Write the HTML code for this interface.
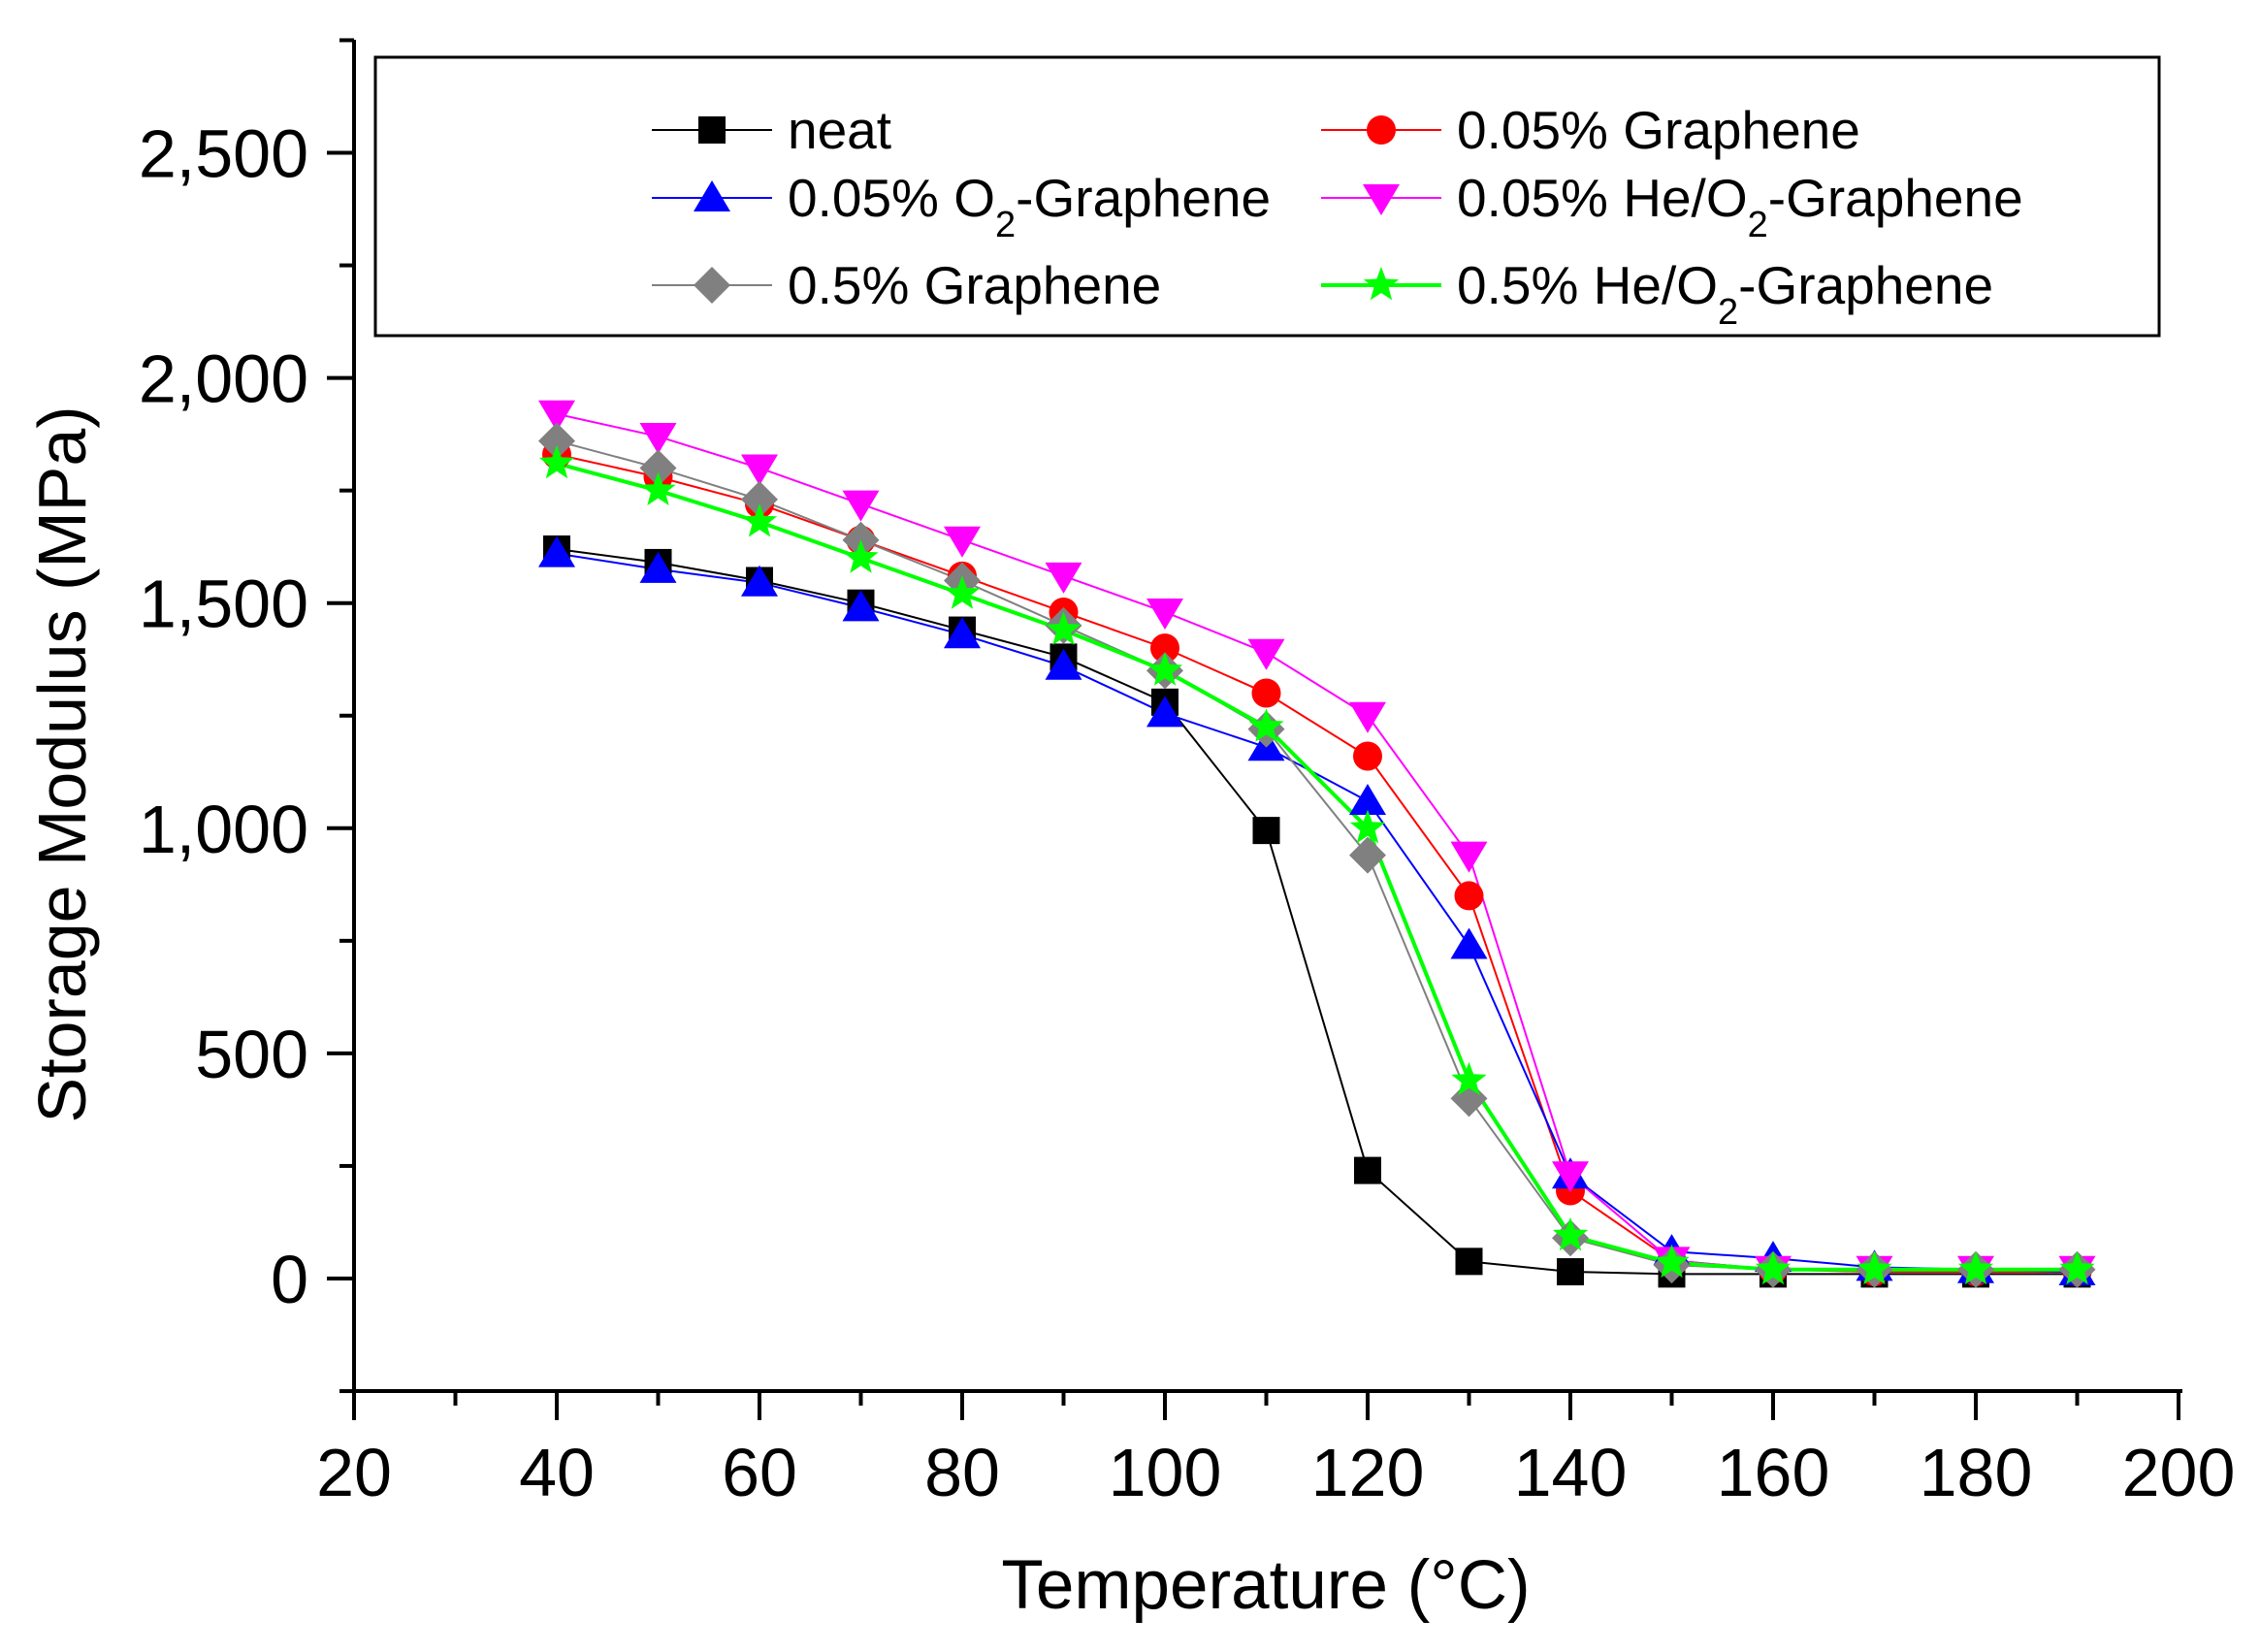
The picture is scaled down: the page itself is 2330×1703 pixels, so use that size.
<!DOCTYPE html>
<html><head><meta charset="utf-8"><style>body{margin:0;background:#fff}svg{display:block}</style></head>
<body>
<svg id="s" width="2330" height="1703" xmlns="http://www.w3.org/2000/svg" font-family="Liberation Sans, Arial, sans-serif">
<rect width="2330" height="1703" fill="#fff"/>
</svg>
<script>
const s=document.getElementById('s');const NS='http://www.w3.org/2000/svg';
function el(t,a,txt){const e=document.createElementNS(NS,t);for(const k in a)e.setAttribute(k,a[k]);if(txt!==undefined)e.innerHTML=txt;s.appendChild(e);return e;}
const X=v=>365+(v-20)*10.45, Y=v=>1318-v*0.4642;
el('line',{x1:365,y1:41,x2:365,y2:1436,stroke:'#000','stroke-width':4});
el('line',{x1:363,y1:1434,x2:2250,y2:1434,stroke:'#000','stroke-width':4});
for(let v=20;v<=200;v+=10){const maj=v%20==0;el('line',{x1:X(v),y1:1434,x2:X(v),y2:1434+(maj?30:15),stroke:'#000','stroke-width':4});
 if(maj)el('text',{x:X(v),y:1542,'font-size':70,'text-anchor':'middle'},v);}
for(let v=-250;v<=2750;v+=250){const maj=v%500==0;el('line',{x1:365,y1:Y(v),x2:365-(maj?28:15),y2:Y(v),stroke:'#000','stroke-width':4});
 if(maj&&v>=0)el('text',{x:318,y:Y(v)+25,'font-size':70,'text-anchor':'end'},v.toLocaleString('en-US'));}
el('text',{x:1305,y:1658,'font-size':71,'text-anchor':'middle'},'Temperature (°C)');
el('text',{x:0,y:0,'font-size':70,'text-anchor':'middle',transform:'translate(88,788) rotate(-90)'},'Storage Modulus (MPa)');
const T=[40,50,60,70,80,90,100,110,120,130,140,150,160,170,180,190];
const S=[
 {c:'#000',m:'sq',w:2,d:[1620,1590,1550,1500,1440,1380,1280,995,240,38,15,10,10,10,10,10]},
 {c:'#ff0000',m:'ci',w:2,d:[1830,1780,1720,1640,1560,1480,1400,1300,1160,850,195,40,20,15,15,15]},
 {c:'#0000ff',m:'tu',w:2,d:[1610,1575,1545,1490,1430,1360,1255,1180,1060,740,230,60,45,25,20,15]},
 {c:'#ff00ff',m:'td',w:2,d:[1920,1870,1800,1720,1640,1560,1480,1390,1250,940,230,40,20,20,20,20]},
 {c:'#808080',m:'di',w:2,d:[1860,1800,1730,1640,1550,1450,1350,1220,940,400,90,30,20,20,20,20]},
 {c:'#00ff00',m:'st',w:4,d:[1810,1750,1680,1600,1520,1440,1350,1225,1000,440,95,35,20,20,20,20]}];
function mk(m,x,y,c){const r=14;
 if(m=='sq')el('rect',{x:x-r,y:y-r,width:2*r,height:2*r,fill:c});
 else if(m=='ci')el('circle',{cx:x,cy:y,r:15,fill:c});
 else if(m=='tu')el('polygon',{points:`${x},${y-18} ${x-19},${y+14} ${x+19},${y+14}`,fill:c});
 else if(m=='td')el('polygon',{points:`${x},${y+18} ${x-19},${y-14} ${x+19},${y-14}`,fill:c});
 else if(m=='di')el('polygon',{points:`${x},${y-19} ${x+19},${y} ${x},${y+19} ${x-19},${y}`,fill:c});
 else {let p=[];for(let i=0;i<10;i++){const a=-Math.PI/2+i*Math.PI/5,rr=i%2?8:19;p.push((x+rr*Math.cos(a)).toFixed(1)+','+(y+rr*Math.sin(a)).toFixed(1));}el('polygon',{points:p.join(' '),fill:c});}}
for(const se of S){el('polyline',{points:T.map((t,i)=>X(t)+','+Y(se.d[i])).join(' '),fill:'none',stroke:se.c,'stroke-width':se.w});}
for(const se of S)T.forEach((t,i)=>mk(se.m,X(t),Y(se.d[i]),se.c));
el('rect',{x:387,y:59,width:1839,height:287,fill:'#fff',stroke:'#000','stroke-width':3});
const L=[['neat',0,0],['0.05% Graphene',1,0],['0.05% O<tspan baseline-shift="sub" font-size="38">2</tspan>-Graphene',0,1],['0.05% He/O<tspan baseline-shift="sub" font-size="38">2</tspan>-Graphene',1,1],['0.5% Graphene',0,2],['0.5% He/O<tspan baseline-shift="sub" font-size="38">2</tspan>-Graphene',1,2]];
const ry=[134,204,294];
L.forEach((l,i)=>{const se=S[i];const x0=l[1]?1362:672,y=ry[l[2]];
 el('line',{x1:x0,y1:y,x2:x0+124,y2:y,stroke:se.c,'stroke-width':se.w});mk(se.m,x0+62,y,se.c);
 el('text',{x:x0+140,y:y+19,'font-size':55},l[0]);});
</script>
</body></html>
